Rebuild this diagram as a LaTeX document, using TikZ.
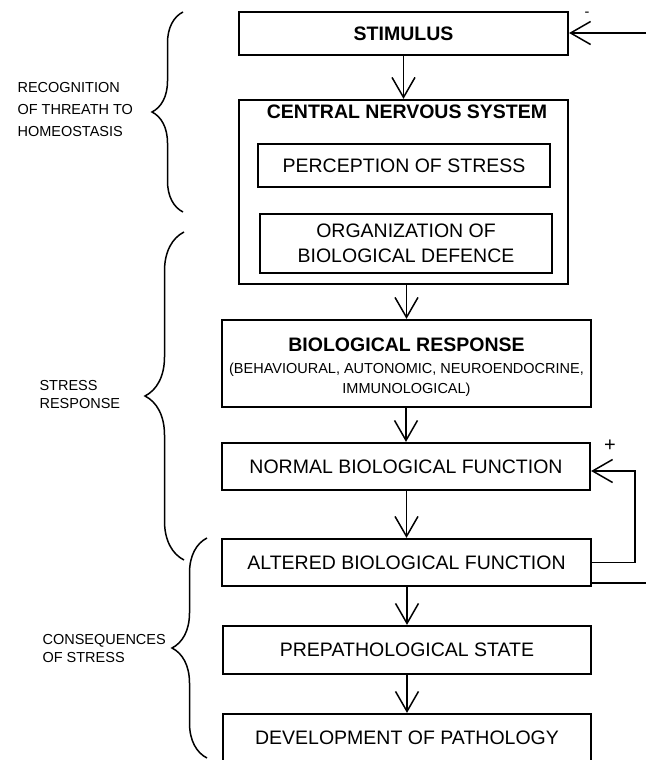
\documentclass[tikz,border=0pt]{standalone}
\usepackage{fontspec}
\setmainfont{Liberation Sans}
\usepackage{tikz}
\usetikzlibrary{arrows.meta, % for open arrow tips
                decorations.pathreplacing, % for braces
                calc}

\newcommand{\BoxFont}{\fontsize{19.5}{25}\selectfont}
\newcommand{\NoteFont}{\fontsize{14.5}{18}\selectfont}

\begin{document}
\begin{tikzpicture}[x=1pt, y=-1pt,
                    Box/.style={draw, line width=2.2pt, inner sep=0pt, font=\BoxFont, align=center},
                    Note/.style={font=\NoteFont, align=left, anchor=west},
                    Sign/.style={font=\NoteFont, inner sep=0pt},
                    flow/.style={-{Straight Barb[length=20pt, width=23pt]}, line width=1.5pt},
                    Brace/.style={decorate, line width=1.5pt}
                    ]

    \useasboundingbox (0,0) rectangle (646,760);
    \clip (0,0) rectangle (646,760);

    % BOXES %
    \node[Box, minimum width=329pt, minimum height=43pt, font=\BoxFont\bfseries] (Stim) at (403.5,33.5) {STIMULUS};
    \node[Box, minimum width=329pt, minimum height=184pt] (Cns) at (403.5,192) {};
    \node[font=\BoxFont\bfseries, inner sep=0pt] (CnsTitle) at (407,112) {CENTRAL NERVOUS SYSTEM};
    \node[Box, minimum width=292pt, minimum height=43pt] (Perc) at (404,165.5) {PERCEPTION OF STRESS};
    \node[Box, minimum width=292pt, minimum height=59pt] (Org) at (406,243.5) {ORGANIZATION OF\\BIOLOGICAL DEFENCE};
    \node[Box, minimum width=369pt, minimum height=87pt] (Resp) at (406.5,363.5)
        {\rule{0pt}{20pt}\bfseries BIOLOGICAL RESPONSE\\[-3pt]
         \NoteFont\mdseries (BEHAVIOURAL, AUTONOMIC, NEUROENDOCRINE,\\[-5pt]
         \NoteFont\mdseries IMMUNOLOGICAL)};
    \node[Box, minimum width=368pt, minimum height=47pt] (Norm) at (406,466.5) {NORMAL BIOLOGICAL FUNCTION};
    \node[Box, minimum width=369pt, minimum height=47pt] (Alt) at (406.5,562.5) {ALTERED BIOLOGICAL FUNCTION};
    \node[Box, minimum width=368pt, minimum height=48pt] (Prep) at (407,650) {PREPATHOLOGICAL STATE};
    \node[Box, minimum width=368pt, minimum height=47pt] (Dev) at (407,737.5) {DEVELOPMENT OF PATHOLOGY};

    % ARROWS %
    \draw[flow] (Stim) -- (Cns);
    \foreach \a/\b in {Cns/Resp, Resp/Norm, Norm/Alt, Alt/Prep, Prep/Dev}
    \draw[flow] (\a.south -| \b) -- (\b.north);

    \coordinate (StimIn) at (646,33);
    \draw[flow] (StimIn) -- (StimIn -| Stim.east);
    \node[Sign] (Minus) at (587,14) {-};

    \coordinate (LoopR) at (635,471);
    \draw[flow] (Alt.east) -| (LoopR) -- (LoopR -| Norm.east);
    \node[Sign, font=\fontsize{20}{20}\selectfont] (Plus) at (610,446) {+};

    \coordinate (AltOut) at (646,583);
    \draw[line width=1.5pt] (AltOut -| Alt.east) -- (AltOut);

    % BRACES %
    \draw[Brace, decoration={brace, amplitude=31pt}] (183,212) -- (183,12);
    \draw[Brace, decoration={brace, amplitude=39pt}] (184,560) -- (184,232);
    \draw[Brace, decoration={brace, amplitude=35pt}] (207,758) -- (207,538);

    \node[Note, font=\fontsize{14.5}{22}\selectfont] (LabRec) at (14,110) {RECOGNITION\\OF THREATH TO\\HOMEOSTASIS};
    \node[Note] (LabResp) at (36,395) {STRESS\\RESPONSE};
    \node[Note] (LabCons) at (39,649) {CONSEQUENCES\\OF STRESS};
\end{tikzpicture}
\end{document}
